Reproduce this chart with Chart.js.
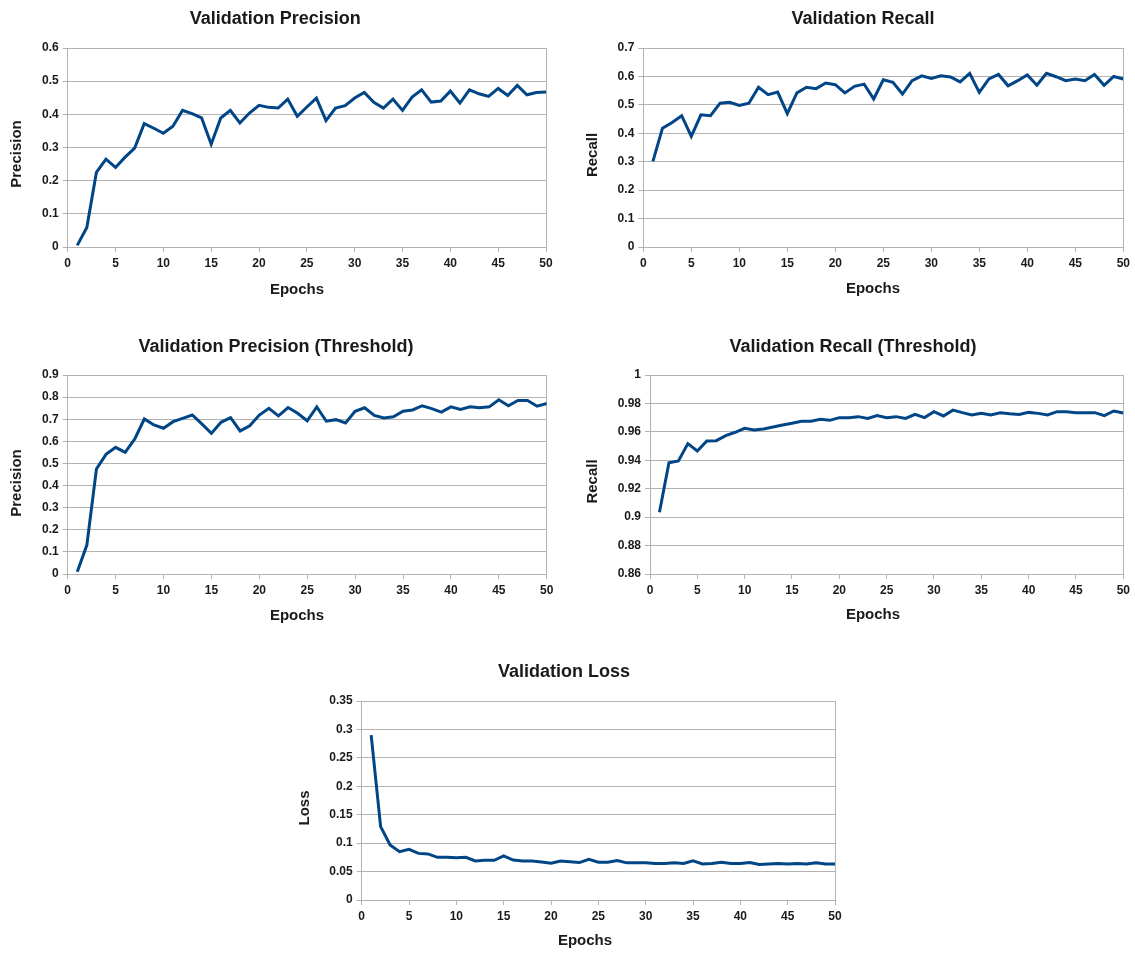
<!DOCTYPE html>
<html>
<head>
<meta charset="utf-8">
<title>Validation metrics</title>
<script src="https://cdn.jsdelivr.net/npm/chart.js@4.4.1/dist/chart.umd.min.js"></script>
<style>
  html, body { margin: 0; padding: 0; background: #ffffff; }
  body { width: 1135px; height: 954px; position: relative; overflow: hidden; }
  canvas { position: absolute; }
</style>
</head>
<body>
<canvas id="precisionChart" width="560" height="312" style="left:0px;top:0px"></canvas>
<canvas id="recallChart" width="560" height="312" style="left:575px;top:0px"></canvas>
<canvas id="precisionThrChart" width="560" height="312" style="left:0px;top:327px"></canvas>
<canvas id="recallThrChart" width="560" height="312" style="left:575px;top:327px"></canvas>
<canvas id="lossChart" width="565" height="302" style="left:285px;top:652px"></canvas>
<script>
// Epoch numbers along the x axis
const epochs = [1, 2, 3, 4, 5, 6, 7, 8, 9, 10,
  11, 12, 13, 14, 15, 16, 17, 18, 19, 20,
  21, 22, 23, 24, 25, 26, 27, 28, 29, 30,
  31, 32, 33, 34, 35, 36, 37, 38, 39, 40,
  41, 42, 43, 44, 45, 46, 47, 48, 49, 50];

// Tick labels
const epochTicks = ['0', '5', '10', '15', '20', '25', '30', '35', '40', '45', '50'];
const precisionTicks = ['0', '0.1', '0.2', '0.3', '0.4', '0.5', '0.6'];
const recallTicks = ['0', '0.1', '0.2', '0.3', '0.4', '0.5', '0.6', '0.7'];
const precisionThrTicks = ['0', '0.1', '0.2', '0.3', '0.4', '0.5', '0.6', '0.7', '0.8', '0.9'];
const recallThrTicks = ['0.86', '0.88', '0.9', '0.92', '0.94', '0.96', '0.98', '1'];
const lossTicks = ['0', '0.05', '0.1', '0.15', '0.2', '0.25', '0.3', '0.35'];

// Per-epoch validation metrics
const valPrecision = [0.005, 0.059, 0.225, 0.265, 0.240, 0.271, 0.298, 0.372, 0.358, 0.343,
  0.364, 0.412, 0.402, 0.389, 0.310, 0.389, 0.412, 0.374, 0.404, 0.427,
  0.421, 0.419, 0.446, 0.394, 0.422, 0.449, 0.381, 0.419, 0.426, 0.449,
  0.466, 0.436, 0.419, 0.446, 0.412, 0.452, 0.474, 0.437, 0.440, 0.470,
  0.434, 0.474, 0.462, 0.454, 0.478, 0.457, 0.487, 0.459, 0.466, 0.467];

const valRecall = [0.301, 0.418, 0.438, 0.462, 0.389, 0.465, 0.462, 0.506, 0.509, 0.498,
  0.506, 0.562, 0.536, 0.545, 0.469, 0.542, 0.562, 0.557, 0.577, 0.571,
  0.542, 0.565, 0.573, 0.521, 0.588, 0.579, 0.538, 0.585, 0.602, 0.593,
  0.602, 0.598, 0.581, 0.611, 0.544, 0.591, 0.607, 0.567, 0.585, 0.605,
  0.569, 0.611, 0.599, 0.585, 0.591, 0.585, 0.607, 0.569, 0.600, 0.591];

const valPrecisionThr = [0.010, 0.131, 0.475, 0.541, 0.573, 0.550, 0.611, 0.701, 0.674, 0.659,
  0.689, 0.704, 0.719, 0.679, 0.636, 0.686, 0.707, 0.647, 0.670, 0.719,
  0.749, 0.715, 0.753, 0.727, 0.693, 0.756, 0.691, 0.698, 0.683, 0.736,
  0.752, 0.717, 0.706, 0.711, 0.736, 0.742, 0.761, 0.748, 0.732, 0.756,
  0.744, 0.756, 0.752, 0.756, 0.788, 0.761, 0.785, 0.785, 0.759, 0.771];

const valRecallThr = [0.9034, 0.9383, 0.9395, 0.9517, 0.9465, 0.9536, 0.9538, 0.9573, 0.9597, 0.9625,
  0.9613, 0.9620, 0.9634, 0.9648, 0.9660, 0.9674, 0.9674, 0.9688, 0.9681, 0.9700,
  0.9700, 0.9707, 0.9695, 0.9714, 0.9700, 0.9707, 0.9695, 0.9723, 0.9700, 0.9742,
  0.9712, 0.9753, 0.9735, 0.9719, 0.9730, 0.9719, 0.9735, 0.9728, 0.9723, 0.9737,
  0.9730, 0.9719, 0.9742, 0.9742, 0.9735, 0.9735, 0.9735, 0.9714, 0.9747, 0.9733];

const valLoss = [0.290, 0.129, 0.0967, 0.085, 0.089, 0.082, 0.081, 0.075, 0.075, 0.0744,
  0.075, 0.0686, 0.0697, 0.0697, 0.0774, 0.0703, 0.0686, 0.0686, 0.0668, 0.0645,
  0.0686, 0.0674, 0.0658, 0.0716, 0.0665, 0.0665, 0.0694, 0.0653, 0.0653, 0.0653,
  0.0641, 0.0641, 0.0653, 0.0641, 0.0688, 0.0635, 0.0641, 0.0665, 0.0641, 0.0641,
  0.0659, 0.0624, 0.0635, 0.0641, 0.0635, 0.0641, 0.0635, 0.0653, 0.0635, 0.0635];

// Shared styling
const LINE_COLOR = '#004586';
const GRID_COLOR = '#b3b3b3';
const INK = '#1a1a1a';
const FAMILY = "'Liberation Sans', Arial, Helvetica, sans-serif";
const TITLE_SIZE = 18, AXIS_TITLE_SIZE = 15, TICK_SIZE = 12;

function labelFor(list, v) {
  const hit = list.find(t => Math.abs(parseFloat(t) - v) < 1e-9);
  return hit === undefined ? '' : hit;
}

// Axis captions placed at fixed spots inside each panel, like a spreadsheet chart
const axisCaptions = {
  id: 'axisCaptions',
  afterDraw(chart, args, opts) {
    const ctx = chart.ctx;
    ctx.save();
    ctx.fillStyle = INK;
    ctx.font = `bold ${AXIS_TITLE_SIZE}px ${FAMILY}`;
    ctx.textAlign = 'center';
    ctx.textBaseline = 'middle';
    ctx.fillText(opts.xText, opts.xAt[0], opts.xAt[1]);
    ctx.translate(opts.yAt[0], opts.yAt[1]);
    ctx.rotate(-Math.PI / 2);
    ctx.fillText(opts.yText, 0, 0);
    ctx.restore();
  }
};

// Builds one panel; page-space geometry is converted into Chart.js paddings
function panel(canvasId, spec) {
  const { box, area } = spec;
  const titleLH = TITLE_SIZE * 1.2;
  const yLeft = 2 * spec.titleX - area.r;          // left edge of the y axis box
  const padLeft = yLeft - box.x;
  const padRight = box.x + box.w - area.r;
  const titleTop = spec.titleY - box.y - titleLH / 2;
  const titleBottom = area.t - box.y - titleTop - titleLH;
  const yWidth = area.l - yLeft;
  const xHeight = box.y + box.h - area.b;

  const tickFont = { family: FAMILY, size: TICK_SIZE, weight: 'bold' };
  const yVals = spec.yTicks.map(Number);

  new Chart(document.getElementById(canvasId), {
    type: 'line',
    data: {
      datasets: [{
        data: epochs.map((e, i) => ({ x: e, y: spec.values[i] })),
        borderColor: LINE_COLOR,
        borderWidth: 3,
        pointRadius: 0,
        pointHoverRadius: 0,
        tension: 0,
        fill: false
      }]
    },
    plugins: [axisCaptions],
    options: {
      responsive: false,
      animation: false,
      devicePixelRatio: 1,
      layout: { padding: { left: padLeft, right: padRight, top: 0, bottom: 0 } },
      plugins: {
        legend: { display: false },
        tooltip: { enabled: false },
        title: {
          display: true,
          text: spec.title,
          color: INK,
          font: { family: FAMILY, size: TITLE_SIZE, weight: 'bold', lineHeight: 1.2 },
          padding: { top: titleTop, bottom: titleBottom }
        },
        axisCaptions: {
          xText: 'Epochs',
          yText: spec.yTitle,
          xAt: [spec.xTitle[0] - box.x, spec.xTitle[1] - box.y],
          yAt: [spec.yTitle2[0] - box.x, spec.yTitle2[1] - box.y]
        }
      },
      scales: {
        x: {
          type: 'linear',
          min: 0,
          max: 50,
          afterBuildTicks: s => { s.ticks = epochTicks.map(t => ({ value: Number(t) })); },
          afterFit: s => { s.height = xHeight; },
          ticks: {
            callback: v => labelFor(epochTicks, v),
            color: INK, font: tickFont, padding: 4,
            maxRotation: 0, autoSkip: false
          },
          grid: {
            color: c => (c.tick && c.tick.value === 50) ? GRID_COLOR : 'rgba(0,0,0,0)',
            tickColor: GRID_COLOR,
            tickLength: 5,
            lineWidth: 1
          },
          border: { display: true, color: GRID_COLOR, width: 1 }
        },
        y: {
          type: 'linear',
          min: yVals[0],
          max: yVals[yVals.length - 1],
          afterBuildTicks: s => { s.ticks = yVals.map(v => ({ value: v })); },
          afterFit: s => { s.width = yWidth; },
          ticks: {
            callback: v => labelFor(spec.yTicks, v),
            color: INK, font: tickFont, padding: 4, autoSkip: false
          },
          grid: { color: GRID_COLOR, tickColor: GRID_COLOR, tickLength: 5, lineWidth: 1 },
          border: { display: true, color: GRID_COLOR, width: 1 }
        }
      }
    }
  });
}

panel('precisionChart', {
  title: 'Validation Precision', yTitle: 'Precision',
  values: valPrecision, yTicks: precisionTicks,
  box: { x: 0, y: 0, w: 560, h: 312 },
  area: { l: 67.7, t: 48, r: 546, b: 247 },
  titleX: 275.3, titleY: 19.3,
  xTitle: [297, 290], yTitle2: [17.3, 154]
});

panel('recallChart', {
  title: 'Validation Recall', yTitle: 'Recall',
  values: valRecall, yTicks: recallTicks,
  box: { x: 575, y: 0, w: 560, h: 312 },
  area: { l: 643.3, t: 48, r: 1123.3, b: 247 },
  titleX: 863, titleY: 19.3,
  xTitle: [873, 289], yTitle2: [593.3, 155]
});

panel('precisionThrChart', {
  title: 'Validation Precision (Threshold)', yTitle: 'Precision',
  values: valPrecisionThr, yTicks: precisionThrTicks,
  box: { x: 0, y: 327, w: 560, h: 312 },
  area: { l: 67.7, t: 375, r: 546.7, b: 574 },
  titleX: 276, titleY: 347,
  xTitle: [297, 616], yTitle2: [17.3, 483]
});

panel('recallThrChart', {
  title: 'Validation Recall (Threshold)', yTitle: 'Recall',
  values: valRecallThr, yTicks: recallThrTicks,
  box: { x: 575, y: 327, w: 560, h: 312 },
  area: { l: 650, t: 375, r: 1123.3, b: 574 },
  titleX: 853, titleY: 347,
  xTitle: [873, 615], yTitle2: [593.3, 481.5]
});

panel('lossChart', {
  title: 'Validation Loss', yTitle: 'Loss',
  values: valLoss, yTicks: lossTicks,
  box: { x: 285, y: 652, w: 565, h: 302 },
  area: { l: 361.7, t: 701, r: 835, b: 900 },
  titleX: 564, titleY: 672,
  xTitle: [585, 941], yTitle2: [305, 808]
});
</script>
</body>
</html>
